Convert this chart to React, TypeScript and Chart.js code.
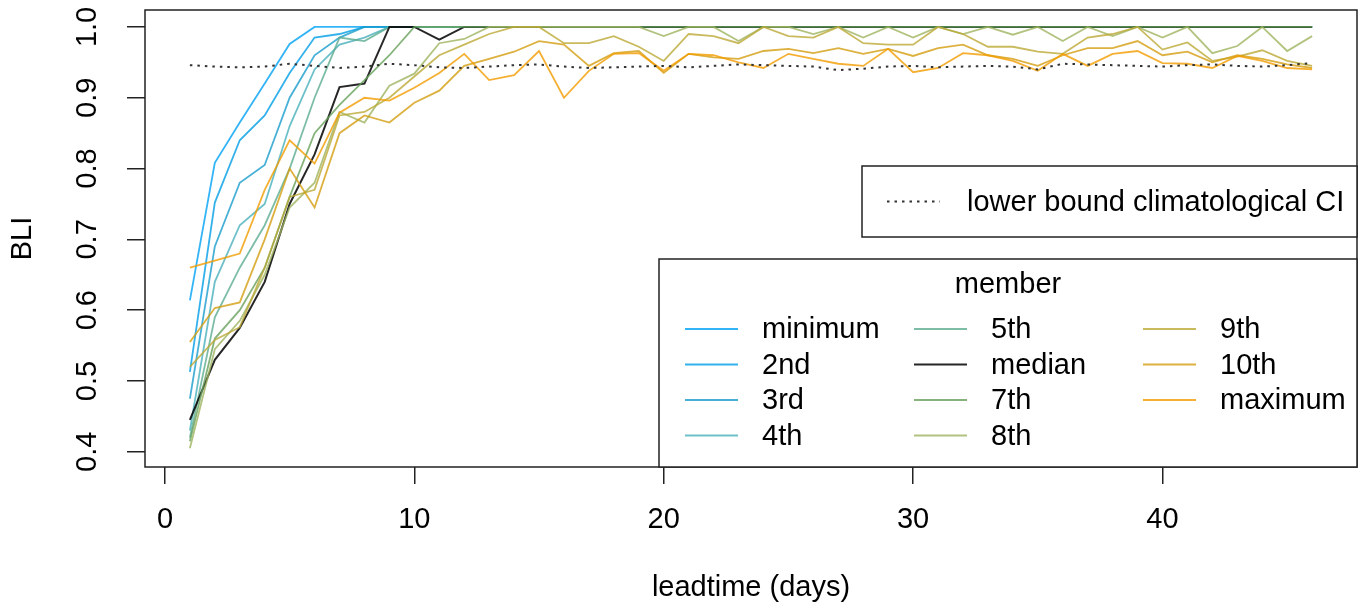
import React, { useEffect, useRef } from 'react';
import { Chart, registerables } from 'chart.js';

Chart.register(...registerables);

const leadtime = [1,2,3,4,5,6,7,8,9,10,11,12,13,14,15,16,17,18,19,20,21,22,23,24,25,26,27,28,29,30,31,32,33,34,35,36,37,38,39,40,41,42,43,44,45,46];

const xTicks = [0, 10, 20, 30, 40];
const yTicks = [0.4, 0.5, 0.6, 0.7, 0.8, 0.9, 1.0];
const yTickLabels = ['0.4', '0.5', '0.6', '0.7', '0.8', '0.9', '1.0'];

const memberNames = ['minimum','2nd','3rd','4th','5th','median','7th','8th','9th','10th','maximum'];
const memberColors = [
  'rgba(0,161,244,0.8)',
  'rgba(0,158,229,0.8)',
  'rgba(25,156,204,0.8)',
  'rgba(73,176,188,0.8)',
  'rgba(93,172,144,0.8)',
  'rgba(0,0,0,0.85)',
  'rgba(104,160,91,0.8)',
  'rgba(159,180,95,0.8)',
  'rgba(188,169,54,0.8)',
  'rgba(213,158,16,0.8)',
  'rgba(243,156,0,0.8)',
];

const sMinimum = [0.614,0.808,0.865,0.92,0.976,1,1,1,1,1,1,1,1,1,1,1,1,1,1,1,1,1,1,1,1,1,1,1,1,1,1,1,1,1,1,1,1,1,1,1,1,1,1,1,1,1];
const s2nd = [0.513,0.752,0.84,0.875,0.935,0.985,0.99,1,1,1,1,1,1,1,1,1,1,1,1,1,1,1,1,1,1,1,1,1,1,1,1,1,1,1,1,1,1,1,1,1,1,1,1,1,1,1];
const s3rd = [0.475,0.69,0.78,0.805,0.9,0.96,0.985,1,1,1,1,1,1,1,1,1,1,1,1,1,1,1,1,1,1,1,1,1,1,1,1,1,1,1,1,1,1,1,1,1,1,1,1,1,1,1];
const s4th = [0.43,0.64,0.72,0.75,0.86,0.94,0.975,0.985,1,1,1,1,1,1,1,1,1,1,1,1,1,1,1,1,1,1,1,1,1,1,1,1,1,1,1,1,1,1,1,1,1,1,1,1,1,1];
const s5th = [0.42,0.59,0.66,0.72,0.8,0.9,0.985,0.98,1,1,1,1,1,1,1,1,1,1,1,1,1,1,1,1,1,1,1,1,1,1,1,1,1,1,1,1,1,1,1,1,1,1,1,1,1,1];
const sMedian = [0.445,0.53,0.575,0.64,0.75,0.82,0.915,0.92,1,1,0.982,1,1,1,1,1,1,1,1,1,1,1,1,1,1,1,1,1,1,1,1,1,1,1,1,1,1,1,1,1,1,1,1,1,1,1];
const s7th = [0.415,0.56,0.6,0.66,0.76,0.85,0.89,0.925,0.96,1,1,1,1,1,1,1,1,1,1,1,1,1,1,1,1,1,1,1,1,1,1,1,1,1,1,1,1,1,1,1,1,1,1,1,1,1];
const s8th = [0.405,0.545,0.585,0.65,0.745,0.78,0.88,0.865,0.917,0.934,0.977,0.983,1,1,1,1,1,1,1,0.987,1,1,0.98,1,1,0.99,1,0.985,1,0.985,1,0.99,1,0.989,1,0.98,1,0.987,1,0.985,1,0.963,0.973,1,0.966,0.987];
const s9th = [0.52,0.558,0.576,0.66,0.76,0.77,0.875,0.88,0.9,0.93,0.96,0.975,0.99,1,1,0.977,0.977,0.987,0.972,0.952,0.99,0.987,0.977,1,0.987,0.985,1,0.977,0.975,0.975,1,0.99,0.972,0.972,0.965,0.962,0.985,0.99,1,0.968,0.978,0.952,0.958,0.967,0.952,0.945];
const s10th = [0.555,0.603,0.611,0.7,0.8,0.745,0.85,0.875,0.865,0.893,0.91,0.945,0.955,0.965,0.98,0.975,0.945,0.963,0.966,0.935,0.962,0.957,0.955,0.966,0.969,0.963,0.97,0.962,0.969,0.959,0.97,0.975,0.96,0.955,0.945,0.96,0.97,0.97,0.98,0.96,0.965,0.95,0.96,0.955,0.947,0.942];
const sMaximum = [0.66,0.67,0.68,0.77,0.84,0.807,0.879,0.9,0.896,0.914,0.935,0.962,0.925,0.932,0.966,0.9,0.938,0.962,0.963,0.938,0.962,0.96,0.95,0.942,0.962,0.955,0.948,0.945,0.969,0.936,0.942,0.963,0.96,0.952,0.938,0.962,0.945,0.962,0.966,0.949,0.948,0.942,0.959,0.952,0.942,0.94];
const ciLower = [0.946,0.944,0.943,0.944,0.948,0.945,0.942,0.944,0.948,0.946,0.943,0.942,0.944,0.946,0.947,0.944,0.942,0.943,0.944,0.945,0.943,0.945,0.947,0.946,0.945,0.944,0.939,0.941,0.944,0.945,0.943,0.944,0.945,0.944,0.94,0.948,0.947,0.946,0.945,0.944,0.946,0.947,0.945,0.944,0.946,0.949];

const memberSeries = [sMinimum, s2nd, s3rd, s4th, s5th, sMedian, s7th, s8th, s9th, s10th, sMaximum];

const ciLabel = 'lower bound climatological CI';
const legendTitle = 'member';
const xTitle = 'leadtime (days)';
const yTitle = 'BLI';

const FONT_FAMILY = '"Liberation Sans", Arial, Helvetica, sans-serif';
const FONT_SIZE = 29;
const CI_COLOR = '#333333';
const CI_DASH = [2.5, 5];

const rLegendPlugin = {
  id: 'rLegends',
  afterDraw(chart: any) {
    const ctx = chart.ctx;
    const ca = chart.chartArea;
    ctx.save();
    ctx.strokeStyle = '#222';
    ctx.lineWidth = 1.5;
    ctx.strokeRect(ca.left, ca.top, ca.right - ca.left, ca.bottom - ca.top);

    ctx.font = `${FONT_SIZE}px ${FONT_FAMILY}`;
    ctx.textBaseline = 'middle';

    // CI legend box
    const b1 = { l: ca.right - 495, t: ca.top + 156, r: ca.right, b: ca.top + 227 };
    ctx.fillStyle = '#fff';
    ctx.fillRect(b1.l, b1.t, b1.r - b1.l, b1.b - b1.t);
    ctx.strokeRect(b1.l, b1.t, b1.r - b1.l, b1.b - b1.t);
    const cy1 = (b1.t + b1.b) / 2;
    ctx.strokeStyle = CI_COLOR;
    ctx.lineWidth = 2;
    ctx.setLineDash(CI_DASH);
    ctx.beginPath();
    ctx.moveTo(b1.l + 25, cy1);
    ctx.lineTo(b1.l + 78, cy1);
    ctx.stroke();
    ctx.setLineDash([]);
    ctx.fillStyle = '#000';
    ctx.textAlign = 'left';
    ctx.fillText(ciLabel, b1.l + 105, cy1 + 1);

    // member legend box
    const b2 = { l: ca.right - 698, t: ca.bottom - 208, r: ca.right, b: ca.bottom };
    ctx.fillStyle = '#fff';
    ctx.fillRect(b2.l, b2.t, b2.r - b2.l, b2.b - b2.t);
    ctx.strokeStyle = '#222';
    ctx.lineWidth = 1.5;
    ctx.strokeRect(b2.l, b2.t, b2.r - b2.l, b2.b - b2.t);
    ctx.fillStyle = '#000';
    ctx.textAlign = 'center';
    ctx.fillText(legendTitle, (b2.l + b2.r) / 2, b2.t + 26);
    ctx.textAlign = 'left';
    const colX = [b2.l + 26, b2.l + 255, b2.l + 484];
    const rowY = [b2.t + 70, b2.t + 105.5, b2.t + 141, b2.t + 176.5];
    memberNames.forEach((name, i) => {
      const col = Math.floor(i / 4);
      const row = i % 4;
      const x = colX[col];
      const y = rowY[row];
      ctx.strokeStyle = memberColors[i];
      ctx.lineWidth = 2;
      ctx.beginPath();
      ctx.moveTo(x, y);
      ctx.lineTo(x + 53, y);
      ctx.stroke();
      ctx.fillStyle = '#000';
      ctx.fillText(name, x + 77, y + 1);
    });
    ctx.restore();
  },
};

export default function App() {
  const canvasRef = useRef<HTMLCanvasElement | null>(null);

  useEffect(() => {
    const canvas = canvasRef.current;
    if (!canvas) return;
    const font = { family: FONT_FAMILY, size: FONT_SIZE };
    const datasets: any[] = memberSeries.map((s, i) => ({
      label: memberNames[i],
      data: s.map((v, j) => ({ x: leadtime[j], y: v })),
      borderColor: memberColors[i],
      backgroundColor: memberColors[i],
      borderWidth: i === 5 ? 2 : 1.8,
      pointRadius: 0,
      tension: 0,
      fill: false,
      order: -i,
    }));
    datasets.push({
      label: ciLabel,
      data: ciLower.map((v, j) => ({ x: leadtime[j], y: v })),
      borderColor: CI_COLOR,
      borderWidth: 2,
      borderDash: CI_DASH,
      pointRadius: 0,
      tension: 0,
      fill: false,
      order: -20,
    });

    const chart = new Chart(canvas, {
      type: 'line',
      data: { datasets },
      options: {
        animation: false,
        responsive: false,
        devicePixelRatio: 1,
        layout: { padding: { top: 10, right: 8, left: 0, bottom: 0 } },
        plugins: { legend: { display: false }, tooltip: { enabled: false } },
        scales: {
          x: {
            type: 'linear',
            min: -0.8,
            max: 47.8,
            afterBuildTicks: (s: any) => { s.ticks = xTicks.map((v) => ({ value: v })); },
            afterFit: (s: any) => { s.height = 140; s.paddingLeft = 0; s.paddingRight = 0; },
            ticks: { font, color: '#000', padding: 18.6, autoSkip: false, maxRotation: 0, minRotation: 0, callback: (v: any) => String(v) },
            grid: { display: true, drawOnChartArea: false, drawTicks: true, tickLength: 17, color: '#222', lineWidth: 1.5 },
            border: { display: false },
            title: { display: true, text: xTitle, font, color: '#000', padding: { top: 0, bottom: 1.6 } },
          },
          y: {
            type: 'linear',
            min: 0.3786,
            max: 1.0239,
            afterBuildTicks: (s: any) => { s.ticks = yTicks.map((v) => ({ value: v })); },
            afterFit: (s: any) => { s.width = 145; s.paddingTop = 0; s.paddingBottom = 0; },
            ticks: {
              font, color: '#000', padding: 18.8, autoSkip: false, minRotation: 90, maxRotation: 90, crossAlign: 'center',
              callback: (v: any) => { const k = yTicks.findIndex((t) => Math.abs(t - v) < 1e-6); return k >= 0 ? yTickLabels[k] : ''; },
            },
            grid: { display: true, drawOnChartArea: false, drawTicks: true, tickLength: 18, color: '#222', lineWidth: 1.5 },
            border: { display: false },
            title: { display: true, text: yTitle, font, color: '#000', padding: { top: 5.6, bottom: 0 } },
          },
        },
      },
      plugins: [rLegendPlugin],
    } as any);
    return () => chart.destroy();
  }, []);

  return (
    <div style={{ position: 'fixed', left: 0, top: 0, width: 1365, height: 607, background: '#fff' }}>
      <canvas ref={canvasRef} width={1365} height={607} style={{ display: 'block', width: 1365, height: 607 }} />
    </div>
  );
}
